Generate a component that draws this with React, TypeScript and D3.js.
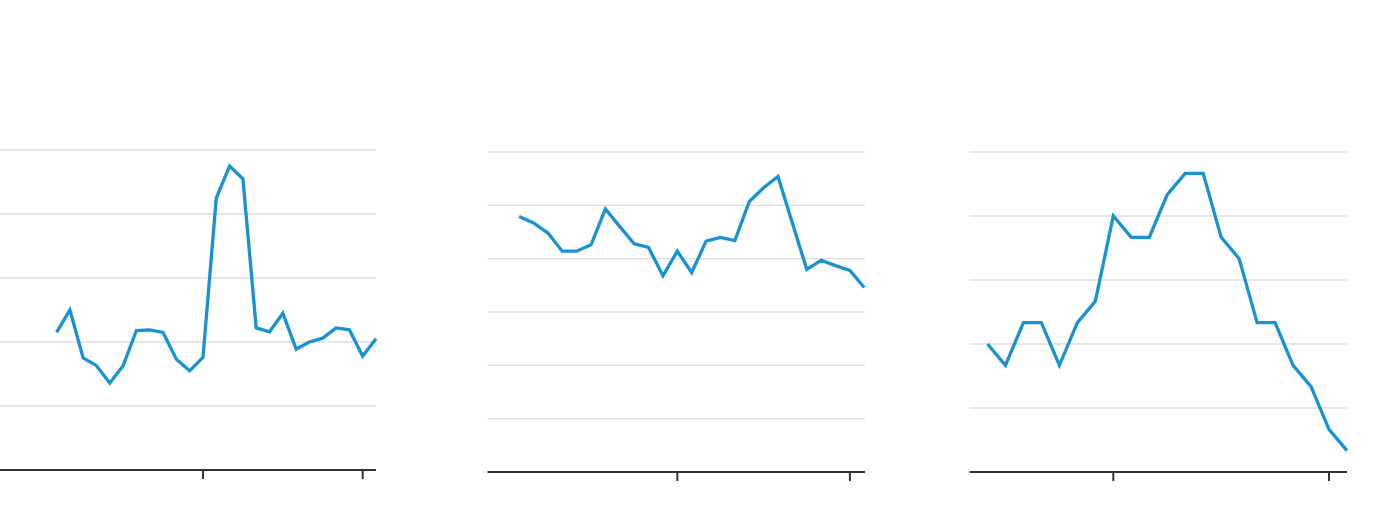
import React from "react";
import * as d3 from "d3";

// months relative to the first tick (tick = start of a year)
const months1 = d3.range(-11, 14);
const values1 = [2.15, 2.5, 1.75, 1.63, 1.36, 1.63, 2.18, 2.19, 2.15, 1.73, 1.55, 1.76, 4.25, 4.75, 4.55, 2.22, 2.16, 2.45, 1.89, 2.0, 2.06, 2.22, 2.19, 1.78, 2.05];
const months2 = d3.range(-11, 14);
const values2 = [4.79, 4.67, 4.48, 4.14, 4.14, 4.26, 4.93, 4.6, 4.28, 4.21, 3.68, 4.14, 3.74, 4.33, 4.4, 4.34, 5.07, 5.33, 5.54, 4.67, 3.8, 3.97, 3.87, 3.78, 3.46];
const months3 = d3.range(-7, 14);
const values3 = [6, 5, 7, 7, 5, 7, 8, 12, 11, 11, 13, 14, 14, 11, 10, 7, 7, 5, 4, 2, 1];

const tickMonths = [0, 12];
const grid1 = [1, 2, 3, 4, 5];
const grid2 = [1, 2, 3, 4, 5, 6];
const grid3 = [3, 6, 9, 12, 15];

type PanelProps = {
  months: number[];
  values: number[];
  xDomain: [number, number];
  xRange: [number, number];
  yDomain: [number, number];
  yRange: [number, number];
  grid: number[];
};

function Panel({ months, values, xDomain, xRange, yDomain, yRange, grid }: PanelProps) {
  const x = d3.scaleLinear().domain(xDomain).range(xRange);
  const y = d3.scaleLinear().domain(yDomain).range(yRange);
  const data = months.map((m, i) => [m, values[i]] as [number, number]);
  const line = d3
    .line<[number, number]>()
    .x((d) => x(d[0]))
    .y((d) => y(d[1]));
  const y0 = y(yDomain[0]);
  return (
    <g>
      {grid.map((g) => (
        <line
          key={g}
          x1={xRange[0]}
          x2={xRange[1]}
          y1={y(g)}
          y2={y(g)}
          stroke="#dedede"
          strokeWidth={1.3}
        />
      ))}
      <line x1={xRange[0]} x2={xRange[1]} y1={y0} y2={y0} stroke="#333" strokeWidth={2} />
      {tickMonths.map((t) => (
        <line key={t} x1={x(t)} x2={x(t)} y1={y0} y2={y0 + 9} stroke="#333" strokeWidth={2} />
      ))}
      <path d={line(data) || ""} fill="none" stroke="#1792d2" strokeWidth={3.3} strokeLinejoin="miter" />
    </g>
  );
}

export default function App() {
  return (
    <svg
      width={1400}
      height={508}
      style={{ position: "absolute", left: 0, top: 0, background: "#fff" }}
    >
      <Panel
        months={months1}
        values={values1}
        xDomain={[-15.25, 13]}
        xRange={[0, 376]}
        yDomain={[0, 5]}
        yRange={[470, 150]}
        grid={grid1}
      />
      <Panel
        months={months2}
        values={values2}
        xDomain={[-13.2, 13.05]}
        xRange={[487.5, 865]}
        yDomain={[0, 6]}
        yRange={[472, 152]}
        grid={grid2}
      />
      <Panel
        months={months3}
        values={values3}
        xDomain={[-8, 13]}
        xRange={[969.5, 1347]}
        yDomain={[0, 15]}
        yRange={[472, 152]}
        grid={grid3}
      />
    </svg>
  );
}
